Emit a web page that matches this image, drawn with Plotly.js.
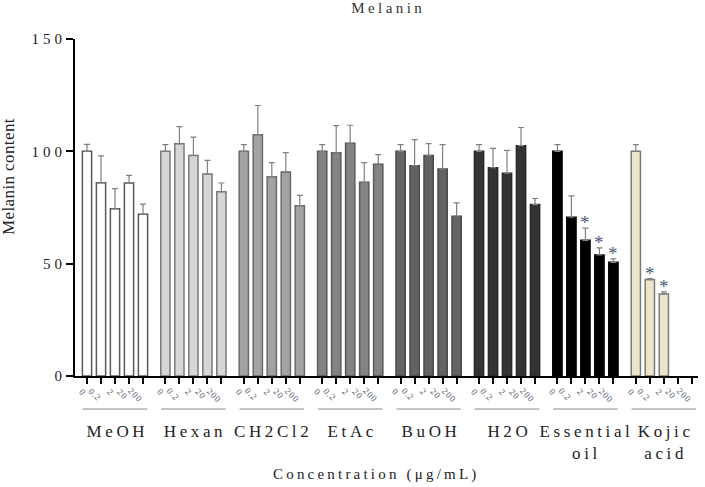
<!DOCTYPE html>
<html><head><meta charset="utf-8">
<script src="https://cdn.plot.ly/plotly-3.0.1.min.js"></script>
<style>
html,body{margin:0;padding:0;background:#fff}
#chart{width:705px;height:487px}
</style>
</head><body><div id="chart"></div>
<script>
const groupNames = ['MeOH', 'Hexan', 'CH2Cl2', 'EtAc', 'BuOH', 'H2O', 'Essential<br>oil', 'Kojic<br>acid'];
const concLabels = ['0', '0.2', '2', '20', '200'];
const meohMean   = [100, 86.0, 74.4, 85.9, 72.0];
const meohErr    = [3.1, 12.0, 9.0, 3.4, 4.5];
const hexanMean  = [100, 103.4, 98.2, 89.9, 82.0];
const hexanErr   = [3.0, 7.6, 8.1, 6.1, 3.9];
const ch2cl2Mean = [100, 107.4, 88.7, 90.8, 75.8];
const ch2cl2Err  = [3.0, 13.0, 6.3, 8.6, 4.6];
const etacMean   = [100, 99.4, 103.6, 86.2, 94.3];
const etacErr    = [3.0, 12.0, 8.0, 8.8, 4.2];
const buohMean   = [100, 93.6, 98.2, 92.1, 71.1];
const buohErr    = [3.0, 11.6, 5.2, 10.9, 6.0];
const h2oMean    = [100, 92.7, 90.3, 102.5, 76.3];
const h2oErr     = [3.0, 8.6, 10.1, 8.1, 2.7];
const oilMean    = [100, 70.7, 60.4, 53.9, 50.6];
const oilErr     = [3.0, 9.5, 5.4, 3.1, 1.5];
const kojicMean  = [100, 42.9, 36.5, null, null];
const kojicErr   = [3.0, 0.4, 0.9, null, null];
const oilSig   = [0, 0, 1, 1, 1];
const kojicSig = [0, 1, 1, 0, 0];
const otherSig = [0, 0, 0, 0, 0];
const yTickVals = [0, 50, 100, 150];
const titleText = 'Melanin';
const yTitleText = 'Melanin content';
const xTitleText = 'Concentration (μg/mL)';

const SERIF = 'Liberation Serif';
const fills    = ['#ffffff', '#d6d6d6', '#a3a3a3', '#838383', '#636363', '#333333', '#000000', '#ece5c8'];
const outlines = ['#5a5a5a', '#7a7a7a', '#6a6a6a', '#5a5a5a', '#4a4a4a', '#2a2a2a', '#000000', '#7a7a7a'];
const means = [meohMean, hexanMean, ch2cl2Mean, etacMean, buohMean, h2oMean, oilMean, kojicMean];
const errs  = [meohErr, hexanErr, ch2cl2Err, etacErr, buohErr, h2oErr, oilErr, kojicErr];
const sigs  = [otherSig, otherSig, otherSig, otherSig, otherSig, otherSig, oilSig, kojicSig];

const STRIDE = 5.6, BARW = 0.66;
const pos = (g, i) => g * STRIDE + i;

const traces = groupNames.map((name, g) => ({
  type: 'bar', name: name,
  x: concLabels.map((_, i) => pos(g, i)), y: means[g], width: BARW,
  marker: {color: fills[g], line: {color: outlines[g], width: 1.5}},
  error_y: {type: 'data', symmetric: false, array: errs[g], arrayminus: errs[g].map(() => 0),
            color: '#808080', thickness: 1.2, width: 3},
  hoverinfo: 'skip'
}));
const allPos = [];
groupNames.forEach((_, g) => concLabels.forEach((_, i) => allPos.push(pos(g, i))));

const annotations = [];
const spacing = [];
groupNames.forEach((_, g) => concLabels.forEach((lab, i) => {
  annotations.push({x: pos(g, i), xref: 'x', y: -0.027, yref: 'paper', text: lab, textangle: 45,
    xanchor: 'right', yanchor: 'top', xshift: 2, showarrow: false, borderpad: 0,
    font: {size: 9, color: '#50586a', family: SERIF}});
  spacing.push(0.8);
}));
groupNames.forEach((name, g) => {
  annotations.push({x: pos(g, 2), xref: 'x', y: -0.131, yref: 'paper', text: name,
    xanchor: 'center', yanchor: 'top', showarrow: false,
    font: {size: 17, color: '#222', family: SERIF}});
  spacing.push(3.6);
});
groupNames.forEach((_, g) => concLabels.forEach((_, i) => {
  if (sigs[g][i]) {
    annotations.push({x: pos(g, i), xref: 'x', y: means[g][i] + errs[g][i], yref: 'y', text: '*',
      xanchor: 'center', yanchor: 'bottom', yshift: -7, showarrow: false,
      font: {size: 19, color: '#4a5878', family: SERIF}});
    spacing.push(0);
  }
}));
annotations.push({x: 0.48, xref: 'paper', y: -0.291, yref: 'paper', text: xTitleText,
  xanchor: 'center', yanchor: 'middle', showarrow: false,
  font: {size: 15, color: '#222', family: SERIF}});
spacing.push(3.2);
annotations.push({x: -0.1075, xref: 'paper', y: 0.59, yref: 'paper', text: yTitleText, textangle: -90,
  xanchor: 'center', yanchor: 'middle', showarrow: false,
  font: {size: 17, color: '#222', family: SERIF}});
spacing.push(0.4);

const shapes = groupNames.map((_, g) => ({
  type: 'line', xref: 'x', yref: 'paper', x0: pos(g, 2) - 2.3, x1: pos(g, 2) + 2.3,
  y0: -0.098, y1: -0.098, line: {color: '#8a8a8a', width: 1}
}));

const layout = {
  width: 705, height: 487, margin: {l: 75, r: 7, t: 39, b: 111},
  paper_bgcolor: '#fff', plot_bgcolor: '#fff', showlegend: false, barmode: 'overlay',
  font: {family: SERIF, color: '#222'},
  title: {text: titleText, font: {size: 15, color: '#333', family: SERIF},
          x: 0.5, xref: 'paper', y: 1 - 8 / 487, yref: 'container', yanchor: 'middle'},
  xaxis: {range: [-0.857, 43.64], tickvals: allPos, showticklabels: false,
          ticks: 'outside', ticklen: 6, tickwidth: 2, tickcolor: '#000',
          showline: true, linecolor: '#000', linewidth: 2, showgrid: false, zeroline: false},
  yaxis: {range: [0, 150], tickvals: yTickVals, ticktext: yTickVals.map(String),
          ticks: 'outside', ticklen: 7, tickwidth: 2, tickcolor: '#000', ticklabelstandoff: -3,
          showline: true, linecolor: '#000', linewidth: 2, showgrid: false, zeroline: false,
          tickfont: {size: 15, color: '#222', family: SERIF}},
  shapes: shapes, annotations: annotations
};

// widen glyph spacing with textLength (keeps the text itself)
function spread(el, px) {
  if (!px) return;
  const lines = el.querySelectorAll('tspan.line');
  const targets = lines.length ? Array.from(lines) : [el];
  targets.forEach(t => {
    const n = (t.textContent || '').length;
    if (n < 2) return;
    const w = t.getComputedTextLength();
    t.setAttribute('lengthAdjust', 'spacing');
    t.setAttribute('textLength', (w + px * (n - 1)).toFixed(2));
  });
}

Plotly.newPlot('chart', traces, layout, {staticPlot: true, displayModeBar: false}).then(() => {
  document.querySelectorAll('#chart .annotation').forEach(el => {
    const idx = +el.getAttribute('data-index');
    const t = el.querySelector('text');
    if (t) spread(t, spacing[idx]);
  });
  const gt = document.querySelector('#chart .gtitle');
  if (gt) spread(gt, 3.4);
  document.querySelectorAll('#chart .ytick text').forEach(t => { t.style.letterSpacing = '4px'; });
});
</script>
</body></html>
